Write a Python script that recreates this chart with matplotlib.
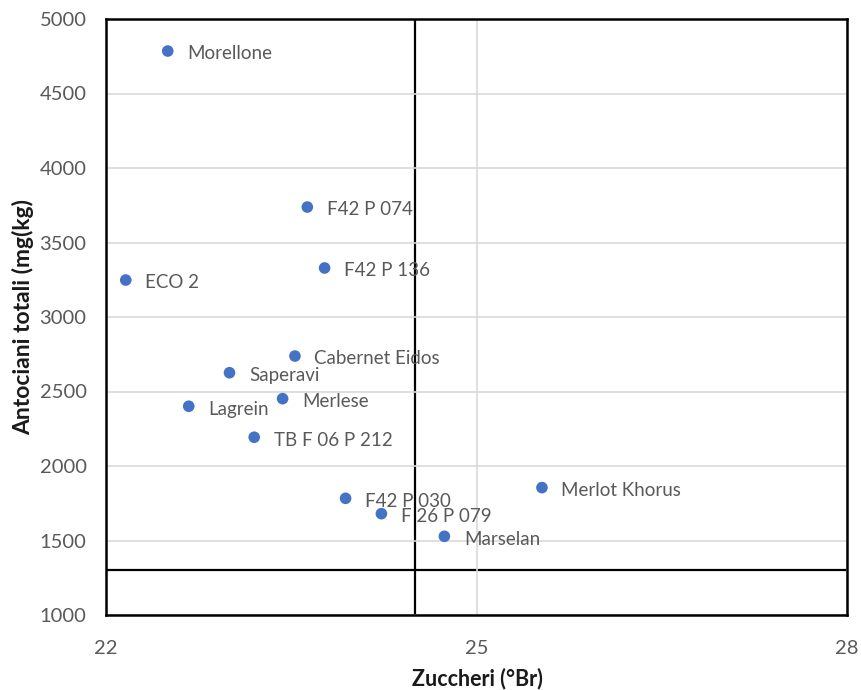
import matplotlib.pyplot as plt
from matplotlib import rcParams

rcParams.update({
    "font.family": ["Lato", "DejaVu Sans"],
    "font.size": 13,
})

# data
names = ["Morellone", "ECO 2", "F42 P 074", "F42 P 136", "Cabernet Eidos",
         "Saperavi", "Lagrein", "Merlese", "TB F 06 P 212", "F42 P 030",
         "F 26 P 079", "Marselan", "Merlot Khorus"]
zuccheri = [22.50, 22.16, 23.63, 23.77, 23.53, 23.00, 22.67, 23.43, 23.20,
            23.94, 24.23, 24.74, 25.53]
antociani = [4785, 3248, 3738, 3329, 2738, 2626, 2401, 2452, 2193,
             1783, 1680, 1528, 1855]
x_ticks = [22, 25, 28]
y_ticks = [1000, 1500, 2000, 2500, 3000, 3500, 4000, 4500, 5000]
x_cut = 24.5
y_cut = 1300

fig = plt.figure(figsize=(8.61, 6.90), dpi=100)
ax = fig.add_axes([106 / 861, 1 - 615 / 690, 741 / 861, 596 / 690])

ax.set_xlim(22, 28)
ax.set_ylim(1000, 5000)
ax.set_xticks(x_ticks)
ax.set_yticks(y_ticks)
ax.grid(True, color='#d9d9d9', lw=1.2, zorder=0)
ax.tick_params(length=0, colors='#595959', labelsize=14.5)
ax.tick_params(axis='y', pad=14)
ax.tick_params(axis='x', pad=18)

for s in ax.spines.values():
    s.set_color('black')
    s.set_linewidth(1.8)

ax.axvline(x_cut, color='black', lw=1.6, zorder=1)
ax.axhline(y_cut, color='black', lw=1.6, zorder=1)

ax.scatter(zuccheri, antociani, s=70, color='#4472c4', zorder=3, edgecolors='none')
for n, x, y in zip(names, zuccheri, antociani):
    ax.annotate(n, (x, y), xytext=(14, -2), textcoords='offset points',
                va='center', ha='left', color='#595959', fontsize=13.5, zorder=4)

ax.set_xlabel('Zuccheri (°Br)', fontweight='bold', color='#1a1a1a', fontsize=15.5)
ax.set_ylabel('Antociani totali (mg(kg)', fontweight='bold', color='#1a1a1a', fontsize=16.5)
ax.xaxis.set_label_coords((477 - 106) / 741, -(668 - 615) / 596)
ax.yaxis.set_label_coords(-(106 - 34) / 741, (615 - 317) / 596)

plt.savefig('out.png', dpi=100)
plt.close()
